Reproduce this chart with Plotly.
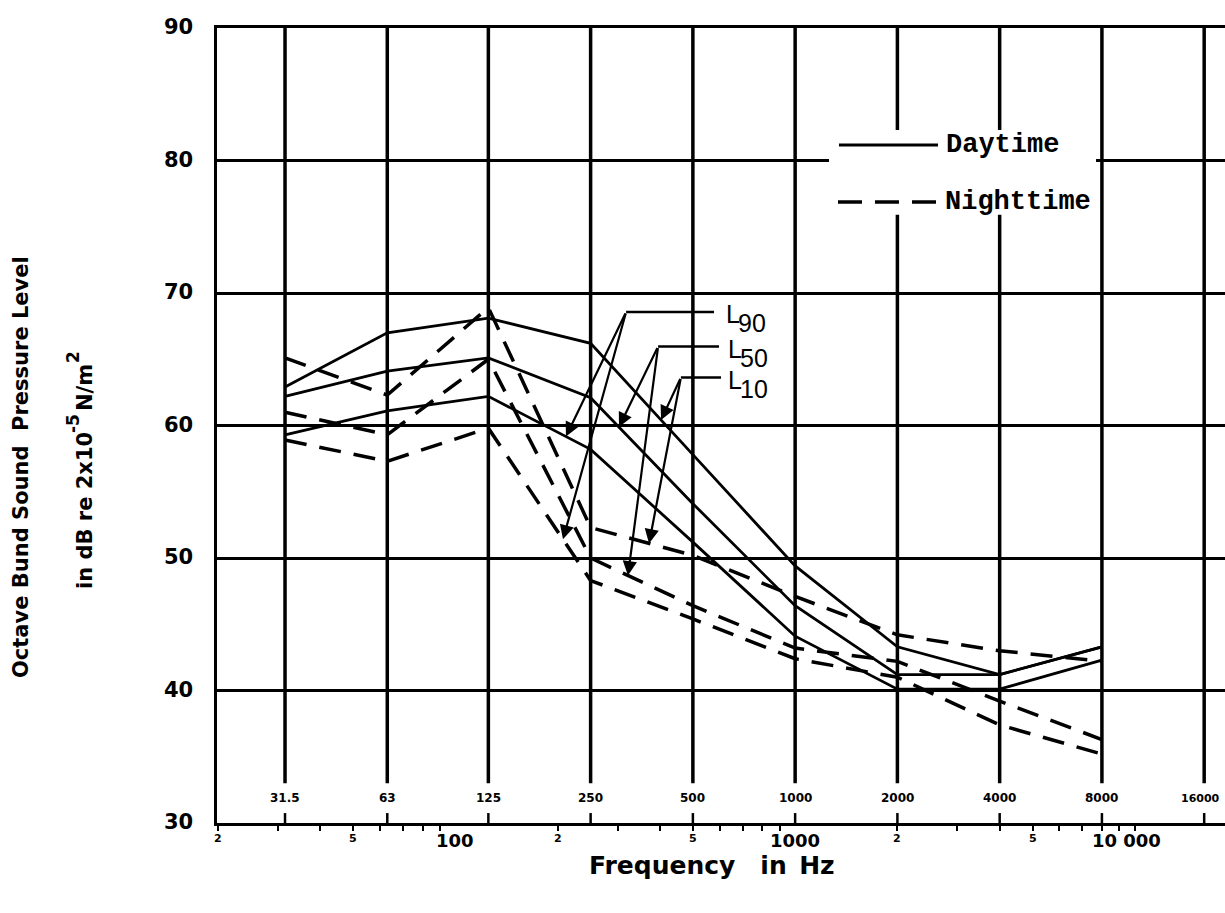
import math
import plotly.graph_objects as go

# ---------------- data ----------------
freq_hz = [31.5, 63, 125, 250, 500, 1000, 2000, 4000, 8000]

day_L10 = [62.9, 67.0, 68.1, 66.2, 57.8, 49.4, 43.3, 41.2, 43.3]
day_L50 = [62.2, 64.1, 65.1, 62.1, 54.1, 46.4, 41.2, 41.2, 43.3]
day_L90 = [59.3, 61.1, 62.2, 58.2, 51.2, 44.1, 40.1, 40.1, 42.3]

night_L10 = [65.1, 62.3, 68.9, 52.3, 50.2, 47.1, 44.2, 43.0, 42.2]
night_L50 = [61.0, 59.3, 65.0, 50.0, 46.4, 43.2, 42.2, 39.2, 36.3]
night_L90 = [58.9, 57.3, 59.8, 48.3, 45.4, 42.4, 41.0, 37.4, 35.2]

octave_hz = [31.5, 63, 125, 250, 500, 1000, 2000, 4000, 8000, 16000]
octave_labels = ["31.5", "63", "125", "250", "500", "1000", "2000", "4000", "8000", "16000"]

freq_tick_hz = [20, 50, 100, 200, 500, 1000, 2000, 5000, 10000]
freq_tick_text = ["2", "5", "100", "2", "5", "1000", "2", "5", "10 000"]
minor_tick_hz = [m * d for d in (10, 100, 1000) for m in range(2, 10)] + [10000]

y_ticks = [30, 40, 50, 60, 70, 80, 90]
y_grid = [40, 50, 60, 70, 80]

# L-labels: leader corner (Hz, dB), leader end Hz, day/night arrow target Hz
label_names = ["L", "L", "L"]
label_subs = ["90", "50", "10"]
label_corner_hz = [318, 395, 461]
label_corner_db = [68.57, 65.96, 63.62]
label_end_hz = [577, 597, 605]
label_text_hz = [617, 626, 626]
day_target_hz = [211.5, 303, 403]
night_target_hz = [207.3, 322, 371.5]
day_series = [day_L90, day_L50, day_L10]
night_series = [night_L90, night_L50, night_L10]

# legend block
legend_names = ["Daytime", "Nighttime"]
legend_line_hz = [(1346, 2634), (1337, 2598)]
legend_db = [81.17, 76.87]
legend_text_hz = [2743, 2725]
legend_box_hz = [1258, 7687]
legend_box_db = [75.9, 82.3]

X0 = math.log10(20) - 1 / 339.7
X1 = X0 + 1008 / 339.7
L = math.log10


def interp(series, f):
    lf = L(f)
    for i in range(len(freq_hz) - 1):
        a, b = L(freq_hz[i]), L(freq_hz[i + 1])
        if a <= lf <= b:
            t = (lf - a) / (b - a)
            return series[i] + t * (series[i + 1] - series[i])
    return series[-1]


fig = go.Figure()

# vertical octave grid lines
vx, vy = [], []
for f in octave_hz:
    vx += [f, f, None]
    vy += [33.0, 90, None]
fig.add_trace(go.Scatter(x=vx, y=vy, mode="lines", line=dict(color="black", width=3.5),
                         hoverinfo="skip", showlegend=False))
# octave ticks above the axis
tx, ty = [], []
for f in octave_hz:
    tx += [f, f, None]
    ty += [30, 30.75, None]
fig.add_trace(go.Scatter(x=tx, y=ty, mode="lines", line=dict(color="black", width=2.5),
                         hoverinfo="skip", showlegend=False))

# white box behind legend
bx = [legend_box_hz[0], legend_box_hz[1], legend_box_hz[1], legend_box_hz[0], legend_box_hz[0]]
by = [legend_box_db[0], legend_box_db[0], legend_box_db[1], legend_box_db[1], legend_box_db[0]]
fig.add_trace(go.Scatter(x=bx, y=by, mode="lines", fill="toself", fillcolor="white",
                         line=dict(width=0, color="white"), hoverinfo="skip", showlegend=False))

DASH = "22px,13px"
for s in (day_L10, day_L50, day_L90):
    fig.add_trace(go.Scatter(x=freq_hz, y=s, mode="lines", line=dict(color="black", width=2.8),
                             showlegend=False))
for s in (night_L10, night_L50, night_L90):
    fig.add_trace(go.Scatter(x=freq_hz, y=s, mode="lines",
                             line=dict(color="black", width=3.5, dash=DASH), showlegend=False))

# leader lines for L labels
for i in range(3):
    fig.add_trace(go.Scatter(x=[label_corner_hz[i], label_end_hz[i]],
                             y=[label_corner_db[i], label_corner_db[i]], mode="lines",
                             line=dict(color="black", width=2.5), hoverinfo="skip", showlegend=False))

# legend sample lines
fig.add_trace(go.Scatter(x=list(legend_line_hz[0]), y=[legend_db[0]] * 2, mode="lines",
                         line=dict(color="black", width=3), showlegend=False))
fig.add_trace(go.Scatter(x=list(legend_line_hz[1]), y=[legend_db[1]] * 2, mode="lines",
                         line=dict(color="black", width=3.5, dash="24px,13px"), showlegend=False))

ann = []
BOLD = dict(family="DejaVu Sans", color="black", weight="bold")

# y tick labels
for v in y_ticks:
    ann.append(dict(x=0, xref="paper", y=v, yref="y", text=str(v), showarrow=False,
                    xanchor="right", yanchor="middle", xshift=-22, yshift=1,
                    font=dict(BOLD, size=21)))
# x tick labels
for f, t in zip(freq_tick_hz, freq_tick_text):
    small = t in ("2", "5")
    ann.append(dict(x=L(f), xref="x", y=0, yref="paper", text=t, showarrow=False,
                    xanchor="center", yanchor="middle",
                    yshift=-15 if small else -17, xshift=(-8 if t == "10 000" else 0),
                    font=dict(BOLD, size=11 if small else 18)))
# octave labels
for f, t in zip(octave_hz, octave_labels):
    last = (t == "16000")
    ann.append(dict(x=L(f), xref="x", y=30, yref="y", text=t, showarrow=False,
                    xanchor="center", yanchor="middle", yshift=25, xshift=(-4 if last else 0),
                    font=dict(BOLD, size=11 if last else 12)))


def px_x(px):
    return (px - 217) / 1008


def px_y(py):
    return (823 - py) / 795


# axis titles
ann.append(dict(x=px_x(712), xref="paper", y=px_y(865), yref="paper",
                text="Frequency\u2003in\u2002Hz", showarrow=False,
                xanchor="center", yanchor="middle", font=dict(BOLD, size=25)))

ann.append(dict(x=px_x(21), xref="paper", y=px_y(467), yref="paper",
                text="Octave Bund Sound  Pressure Level", textangle=-90, showarrow=False,
                xanchor="center", yanchor="middle", font=dict(BOLD, size=21)))
ann.append(dict(x=px_x(85), xref="paper", y=px_y(511), yref="paper",
                text="in dB re 2x10", textangle=-90, showarrow=False,
                xanchor="center", yanchor="middle", font=dict(BOLD, size=21)))
ann.append(dict(x=px_x(73), xref="paper", y=px_y(424), yref="paper",
                text="-5", textangle=-90, showarrow=False,
                xanchor="center", yanchor="middle", font=dict(BOLD, size=17)))
ann.append(dict(x=px_x(85), xref="paper", y=px_y(388), yref="paper",
                text="N/m", textangle=-90, showarrow=False,
                xanchor="center", yanchor="middle", font=dict(BOLD, size=21)))
ann.append(dict(x=px_x(73), xref="paper", y=px_y(357), yref="paper",
                text="2", textangle=-90, showarrow=False,
                xanchor="center", yanchor="middle", font=dict(BOLD, size=17)))

# L labels and arrows
LF = dict(family="Liberation Sans", color="black", size=25)
for i in range(3):
    ann.append(dict(x=L(label_text_hz[i]), xref="x", y=label_corner_db[i], yref="y",
                    text=label_names[i], showarrow=False, xanchor="left", yanchor="middle",
                    yshift=-2, font=LF))
    ann.append(dict(x=L(label_text_hz[i]), xref="x", y=label_corner_db[i], yref="y",
                    text=label_subs[i], showarrow=False, xanchor="left", yanchor="middle",
                    xshift=12, yshift=-11, font=LF))
    for tgt, ser in ((day_target_hz[i], day_series[i]), (night_target_hz[i], night_series[i])):
        ann.append(dict(x=L(tgt), y=interp(ser, tgt), xref="x", yref="y",
                        ax=L(label_corner_hz[i]), ay=label_corner_db[i], axref="x", ayref="y",
                        text="", showarrow=True, arrowhead=2, arrowsize=1.3, arrowwidth=2.2,
                        arrowcolor="black", standoff=0))

# legend texts
for i in range(2):
    ann.append(dict(x=L(legend_text_hz[i]), xref="x", y=legend_db[i], yref="y",
                    text=legend_names[i], showarrow=False, xanchor="left", yanchor="middle",
                    font=dict(family="Liberation Mono", size=27, color="black", weight="bold")))

fig.update_layout(
    width=1225, height=913,
    margin=dict(l=217, r=0, t=28, b=90),
    paper_bgcolor="white", plot_bgcolor="white",
    showlegend=False,
    annotations=ann,
    xaxis=dict(type="log", range=[X0, X1], tickvals=minor_tick_hz, ticks="outside",
               ticklen=5, tickwidth=2, tickcolor="black", showticklabels=False,
               showgrid=False, zeroline=False, showline=True, linewidth=3,
               linecolor="black", mirror=True),
    yaxis=dict(range=[30, 90], tickvals=y_grid, showticklabels=False, ticks="",
               showgrid=True, gridcolor="black", gridwidth=3, zeroline=False,
               showline=True, linewidth=3, linecolor="black"),
)

fig.write_html("out.html", config={"displayModeBar": False},
               post_script="document.body.style.margin='0px';")
